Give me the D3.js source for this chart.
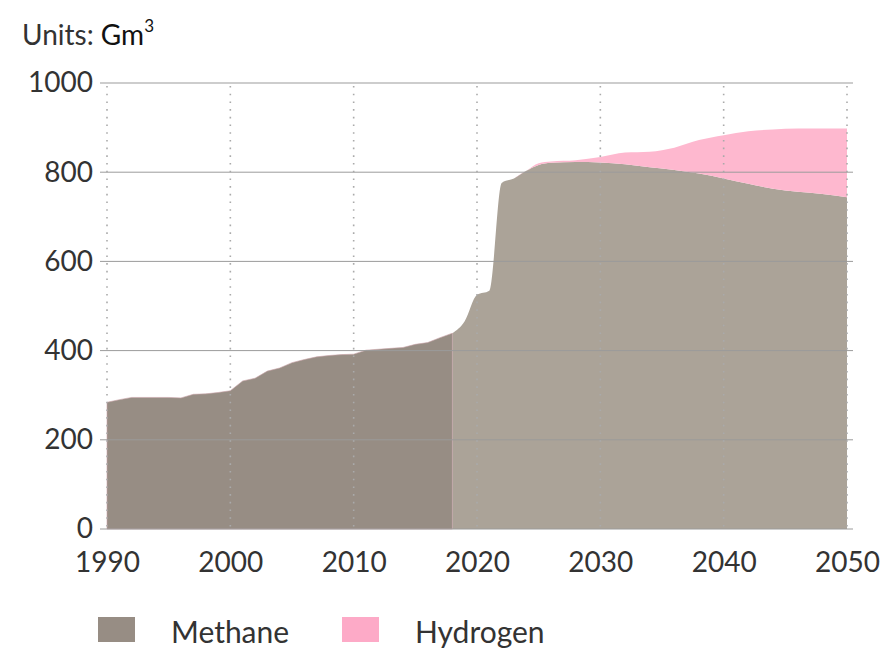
<!DOCTYPE html>
<html>
<head>
<meta charset="utf-8">
<script src="https://cdn.jsdelivr.net/npm/d3@7"></script>
<style>
  html, body { margin: 0; padding: 0; background: #fff; }
  svg { display: block; font-family: Lato, "Open Sans", sans-serif; }
</style>
</head>
<body>
<svg id="chart" width="887" height="650"></svg>
<script>
// ---- data ----
const histYears = [1990,1991,1992,1993,1994,1995,1996,1997,1998,1999,2000,2001,2002,2003,2004,2005,2006,2007,2008,2009,2010,2011,2012,2013,2014,2015,2016,2017,2018];
const histMethane = [284,290,295,295,295,295,294,302,303,306,310,332,338,354,361,373,380,386,389,391,392,401,403,405,407,414,418,429,439];

const projYears = [2018,2019,2020,2021,2022,2023,2024,2025,2026,2028,2030,2032,2034,2036,2038,2040,2042,2044,2046,2048,2050];
const projMethane = [439,466,525,534,776,786,803,816,821,823,822,818,811,805,797,786,774,763,756,751,744];
const projHydrogen = [0,0,0,0,0,0,0,4,3,4,12,26,35,50,75,97,118,133,142,147,154];

const yTicks = [0,200,400,600,800,1000];
const xTicks = [1990,2000,2010,2020,2030,2040,2050];
const seriesNames = ["Methane","Hydrogen"];

// ---- styles ----
const colHist = "#978d84";
const colProj = "#aba398";
const colH2 = "#feb8cf";
const colH2Legend = "#fdaac7";
const textCol = "#333";

const svg = d3.select("#chart");
const W = 887, H = 650;
const m = {left:107, right:40, top:83, bottom:121};

const x = d3.scaleLinear().domain([1990,2050]).range([m.left, W - m.right]);
const y = d3.scaleLinear().domain([0,1000]).range([H - m.bottom, m.top]);

const hist = histYears.map((yr,i)=>({year:yr, m:histMethane[i]}));
const proj = projYears.map((yr,i)=>({year:yr, m:projMethane[i], h:projHydrogen[i]}));

// projection methane
svg.append("path")
  .datum(proj)
  .attr("fill", colProj)
  .attr("d", d3.area().curve(d3.curveMonotoneX)
    .x(d=>x(d.year)).y0(y(0)).y1(d=>y(d.m)));

// hydrogen stacked
svg.append("path")
  .datum(proj)
  .attr("fill", colH2)
  .attr("d", d3.area().curve(d3.curveMonotoneX)
    .x(d=>x(d.year)).y0(d=>y(d.m)).y1(d=>y(d.m + d.h)));

// historical methane
svg.append("path")
  .datum(hist)
  .attr("fill", colHist)
  .attr("stroke", "#c9a3a8")
  .attr("stroke-width", 0.6)
  .attr("d", d3.area().curve(d3.curveLinear)
    .x(d=>x(d.year)).y0(y(0)).y1(d=>y(d.m)));

// horizontal grid
const gy = svg.append("g");
gy.selectAll("line").data(yTicks).join("line")
  .attr("x1", m.left - 7).attr("x2", W - m.right + 6)
  .attr("y1", d=>y(d)).attr("y2", d=>y(d))
  .attr("stroke", "#9b9b9b").attr("stroke-width", 1);

// vertical dotted grid
const gx = svg.append("g");
gx.selectAll("line").data(xTicks).join("line")
  .attr("x1", d=>x(d)).attr("x2", d=>x(d))
  .attr("y1", y(1000) + 3).attr("y2", y(0))
  .attr("stroke", "#aaaaaa").attr("stroke-width", 1.6)
  .attr("stroke-dasharray", "1.6,6.1");

// y axis labels
const yAxis = d3.axisLeft(y).tickValues(yTicks).tickFormat(d3.format("d")).tickSize(0).tickPadding(14);
const ya = svg.append("g").attr("transform", `translate(${m.left},0)`).call(yAxis);
ya.select(".domain").remove();
ya.selectAll("text").attr("font-size", 28).attr("fill", textCol)
  .attr("font-family", "Lato, sans-serif");

// x axis labels
const xAxis = d3.axisBottom(x).tickValues(xTicks).tickFormat(d3.format("d")).tickSize(0).tickPadding(23);
const xa = svg.append("g").attr("transform", `translate(0,${y(0)})`).call(xAxis);
xa.select(".domain").remove();
xa.selectAll("text").attr("font-size", 28).attr("fill", textCol)
  .attr("font-family", "Lato, sans-serif");

// units label
const u = svg.append("text").attr("x", 22).attr("y", 45)
  .attr("font-size", 28).attr("fill", textCol);
u.append("tspan").text("Units: ");
u.append("tspan").attr("fill", "#111").text("Gm");
u.append("tspan").attr("font-size", 17).attr("dy", -13).attr("fill", "#111").text("3");

// legend
const legCols = [colHist, colH2Legend];
const legX = [98, 342];
const leg = svg.append("g");
seriesNames.forEach((n,i)=>{
  leg.append("rect").attr("x", legX[i]).attr("y", 617).attr("width", 37).attr("height", 25)
    .attr("fill", legCols[i]);
  leg.append("text").attr("x", legX[i] + 73).attr("y", 643)
    .attr("font-size", 30).attr("fill", textCol).text(n);
});
</script>
</body>
</html>
